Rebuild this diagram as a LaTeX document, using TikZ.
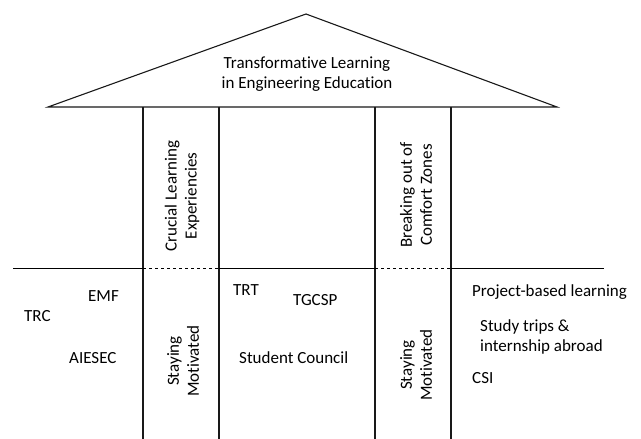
\documentclass[tikz,border=0pt]{standalone}
\usepackage{fontspec}
\setmainfont{Carlito}[Ligatures=NoCommon]
\usetikzlibrary{positioning}

\begin{document}
\begin{tikzpicture}[x=1pt,y=1pt,
    wall/.style={line width=1.1pt, black!90},
    label/.style={inner sep=0pt, font=\fontsize{17}{20}\selectfont},
    sidetext/.style={label, anchor=west, align=left},
    pillartext/.style={label, rotate=90, align=center}]
  \useasboundingbox (0,0) rectangle (641,439);
  % Dimensions of the house
  \def\roofy{332}
  \def\floory{171}
  \def\apexx{306}
  \def\apexy{425}

  % Roof
  \draw[wall, line join=miter] (48,\roofy) -- (\apexx,\apexy) -- (557,\roofy) -- cycle;
  \node[label, align=center] (roof) at (307,365) {Transformative Learning\\in Engineering Education};

  % Four pillar lines
  \foreach \xx in {143,219,375,451} {
    \draw[wall] (\xx,\roofy) -- (\xx,0);
  }

  % Floor line, dashed inside the two pillars
  \draw[line width=0.9pt] (13,\floory) -- (143,\floory);
  \draw[line width=0.9pt] (219,\floory) -- (375,\floory);
  \draw[line width=0.9pt] (451,\floory) -- (604,\floory);
  \draw[line width=0.7pt, dashed] (143,\floory) -- (219,\floory);
  \draw[line width=0.7pt, dashed] (375,\floory) -- (451,\floory);

  % Pillar texts
  \node[pillartext] (crucial) at (182,243) {Crucial Learning\\Experiencies};
  \node[pillartext] (comfort) at (416,244) {Breaking out of\\Comfort Zones};
  \node[pillartext] (motivleft) at (183,78) {Staying\\Motivated};
  \node[pillartext] (motivright) at (416,74) {Staying\\Motivated};

  % Left block
  \node[sidetext] (trc) at (24,123) {TRC};
  \node[sidetext] (emf) at (88,143) {EMF};
  \node[sidetext] (aiesec) at (69,81) {AIESEC};

  % Middle block
  \node[sidetext] (trt) at (233,149) {TRT};
  \node[sidetext] (tgcsp) at (293,139) {TGCSP};
  \node[sidetext] (council) at (239,81) {Student Council};

  % Right block
  \node[sidetext] (project) at (472,147) {Project-based learning};
  \node[sidetext] (trips) at (480,102) {Study trips \&\\internship abroad};
  \node[sidetext] (csi) at (472,61) {CSI};
\end{tikzpicture}
\end{document}
